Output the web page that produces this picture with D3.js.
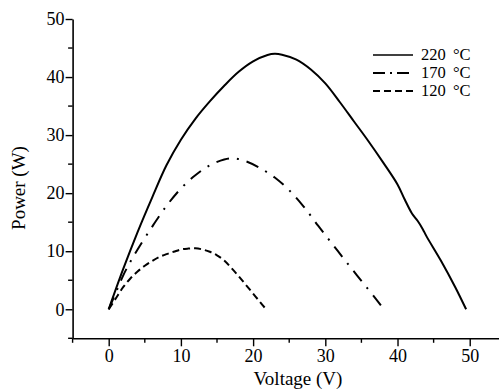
<!DOCTYPE html>
<html>
<head>
<meta charset="utf-8">
<script src="https://cdn.jsdelivr.net/npm/d3@7"></script>
<style>
  body { margin: 0; background: #fff; }
  svg text { font-family: "Liberation Serif", "DejaVu Serif", serif; fill: #000; }
</style>
</head>
<body>
<svg id="chart"></svg>
<script>
// series: [voltage, power]
var series220 = [[0,0],[2,6.9],[4,13.3],[6,19.2],[8,24.8],[10,29.2],[12,32.8],[14,35.8],[16,38.5],[18,40.9],[20,42.7],[22,43.8],[23,44.0],[24,43.85],[26,43.0],[28,41.3],[30,38.9],[32,35.7],[34,32.3],[36,28.9],[38,25.3],[40,21.5],[41,18.9],[42,16.5],[42.8,15.2],[43.5,13.8],[44,12.6],[46,8.4],[48,3.8],[49.5,0]];
var series170 = [[0,0],[1,2.9],[2,5.8],[3,8.2],[4,10.3],[6,14.2],[8,17.8],[10,20.8],[12,23.1],[14,24.8],[16,25.8],[17.3,26.0],[19,25.5],[21,24.3],[23,22.7],[25,20.5],[27,17.7],[29,14.4],[31,11.2],[33,8.0],[35,4.9],[37,1.8],[38.1,0]];
var series120 = [[0,0],[1,1.9],[2,3.8],[3,5.3],[4,6.5],[5,7.5],[6,8.3],[7,9.0],[8,9.5],[9,9.9],[10,10.3],[11,10.45],[12,10.5],[13,10.3],[14,9.9],[15,9.3],[16,8.4],[17,7.1],[18,5.7],[19,4.2],[20,2.7],[21,1.2],[21.8,0]];
var seriesNames = ["220 °C", "170 °C", "120 °C"];
var seriesDash = [null, "13,8,2,8", "7,4"];
var xTicks = [0, 10, 20, 30, 40, 50];
var xMinor = [-5, 5, 15, 25, 35, 45];
var yTicks = [0, 10, 20, 30, 40, 50];
var yMinor = [-5, 5, 15, 25, 35, 45];

var width = 499, height = 390;
var svg = d3.select("#chart").attr("width", width).attr("height", height);

var x = d3.scaleLinear().domain([-5, 54]).range([72.6, 498.6]);
var y = d3.scaleLinear().domain([-5, 50]).range([338.3, 19]);

// bottom axis
var xAxis = svg.append("g").attr("transform", "translate(0," + y(-5) + ")");
xAxis.call(d3.axisBottom(x).tickValues(xTicks).tickSize(8).tickSizeOuter(0).tickPadding(3));
xAxis.append("g").selectAll("line").data(xMinor).join("line")
  .attr("x1", d => x(d)).attr("x2", d => x(d)).attr("y1", 0).attr("y2", 4.5);

// left axis
var yAxis = svg.append("g").attr("transform", "translate(" + x(-5) + ",0)");
yAxis.call(d3.axisLeft(y).tickValues(yTicks).tickSize(7).tickSizeOuter(0).tickPadding(1));
yAxis.append("g").selectAll("line").data(yMinor).join("line")
  .attr("y1", d => y(d)).attr("y2", d => y(d)).attr("x1", 0).attr("x2", -4.5);

svg.selectAll("g").attr("font-family", null);
svg.selectAll(".domain").attr("stroke", "#000").attr("stroke-width", 1.6);
svg.selectAll("g line").attr("stroke", "#000").attr("stroke-width", 1.4);
svg.selectAll(".tick text").attr("font-size", 18);

// curves
var line = d3.line().x(d => x(d[0])).y(d => y(d[1])).curve(d3.curveCatmullRom.alpha(0.5));
var allSeries = [series220, series170, series120];
allSeries.forEach(function(s, i) {
  svg.append("path")
    .attr("d", line(s))
    .attr("fill", "none")
    .attr("stroke", "#000")
    .attr("stroke-width", 2)
    .attr("stroke-dasharray", seriesDash[i]);
});

// legend
var legend = svg.append("g");
seriesNames.forEach(function(name, i) {
  var ly = 55 + i * 18;
  legend.append("line")
    .attr("x1", 373).attr("x2", 413).attr("y1", ly).attr("y2", ly)
    .attr("stroke", "#000").attr("stroke-width", i === 0 ? 1.5 : 2)
    .attr("stroke-dasharray", i === 1 ? "12,5,2,5" : seriesDash[i]);
  legend.append("text")
    .attr("x", 421).attr("y", ly + 5)
    .attr("font-size", 16.5)
    .attr("word-spacing", 3)
    .text(name);
});

// axis titles
svg.append("text")
  .attr("x", 298).attr("y", 385)
  .attr("text-anchor", "middle")
  .attr("font-size", 19)
  .text("Voltage (V)");
svg.append("text")
  .attr("transform", "translate(25," + 188 + ") rotate(-90)")
  .attr("text-anchor", "middle")
  .attr("font-size", 19)
  .text("Power (W)");
</script>
</body>
</html>
